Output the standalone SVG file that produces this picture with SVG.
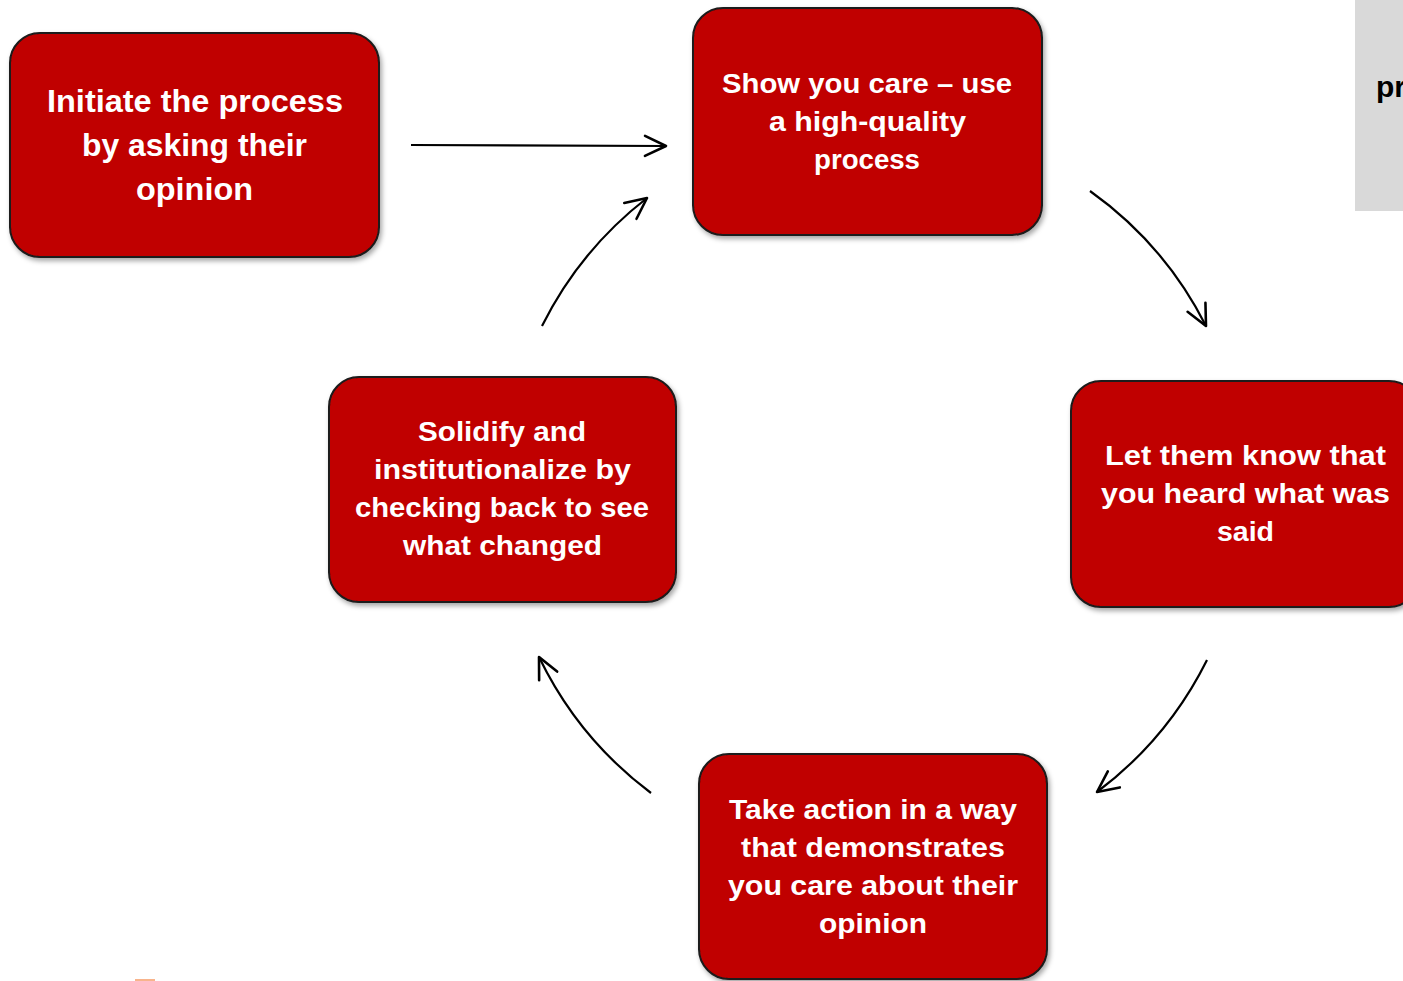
<svg xmlns="http://www.w3.org/2000/svg" width="1403" height="981" viewBox="0 0 1403 981">
<defs>
<filter id="sh" x="-10%" y="-10%" width="125%" height="130%">
<feDropShadow dx="2" dy="3" stdDeviation="2.5" flood-color="#000" flood-opacity="0.35"/>
</filter>
<marker id="ah" markerUnits="userSpaceOnUse" markerWidth="26" markerHeight="24" viewBox="0 0 26 24" refX="23" refY="12" orient="auto">
<path d="M2,2 L23,12 L2,22" fill="none" stroke="#000" stroke-width="2.6" stroke-linecap="round" stroke-linejoin="round"/>
</marker>
</defs>
<style>
.box{fill:#C00000;stroke:#1a1a1a;stroke-width:2;filter:url(#sh)}
.t{font-family:"Liberation Sans",Arial,sans-serif;font-weight:bold;fill:#fff;text-anchor:middle}
.c{fill:none;stroke:#000;stroke-width:2.2;marker-end:url(#ah)}
</style>
<rect x="0" y="0" width="1403" height="981" fill="#fff"/>
<g id="sidepanel">
<rect x="1355" y="0" width="48" height="211" fill="#D9D9D9"/>
<text x="1376" y="97" font-family="Liberation Sans, Arial, sans-serif" font-weight="bold" font-size="30" fill="#000">pr</text>
</g>
<rect x="135" y="979" width="20" height="2" fill="#F8B48C"/>
<g id="connectors">
<path class="c" d="M411,145 L666,146"/>
<path class="c" d="M1090,191 A372,372 0 0 1 1206,326"/>
<path class="c" d="M1207,660 A372,372 0 0 1 1097,792"/>
<path class="c" d="M651,793 A372,372 0 0 1 539,657"/>
<path class="c" d="M542,326 A372,372 0 0 1 647,198"/>
</g>
<g id="node-initiate">
<rect class="box" x="10" y="33" width="369" height="224" rx="30"/>
<text class="t" font-size="31" x="195" y="112" textLength="296" lengthAdjust="spacingAndGlyphs">Initiate the process</text>
<text class="t" font-size="31" x="194.5" y="156" textLength="225" lengthAdjust="spacingAndGlyphs">by asking their</text>
<text class="t" font-size="31" x="194.5" y="200" textLength="117" lengthAdjust="spacingAndGlyphs">opinion</text>
</g>
<g id="node-show">
<rect class="box" x="693" y="8" width="349" height="227" rx="30"/>
<text class="t" font-size="28" x="867" y="93" textLength="290" lengthAdjust="spacingAndGlyphs">Show you care – use</text>
<text class="t" font-size="28" x="867.5" y="131" textLength="197" lengthAdjust="spacingAndGlyphs">a high-quality</text>
<text class="t" font-size="28" x="867" y="169" textLength="106" lengthAdjust="spacingAndGlyphs">process</text>
</g>
<g id="node-letthemknow">
<rect class="box" x="1071" y="381" width="348" height="226" rx="30"/>
<text class="t" font-size="28" x="1245.5" y="465" textLength="281" lengthAdjust="spacingAndGlyphs">Let them know that</text>
<text class="t" font-size="28" x="1245.5" y="503" textLength="289" lengthAdjust="spacingAndGlyphs">you heard what was</text>
<text class="t" font-size="28" x="1245.5" y="541" textLength="57" lengthAdjust="spacingAndGlyphs">said</text>
</g>
<g id="node-takeaction">
<rect class="box" x="699" y="754" width="348" height="225" rx="30"/>
<text class="t" font-size="28" x="873" y="819" textLength="288" lengthAdjust="spacingAndGlyphs">Take action in a way</text>
<text class="t" font-size="28" x="873" y="857" textLength="264" lengthAdjust="spacingAndGlyphs">that demonstrates</text>
<text class="t" font-size="28" x="873" y="895" textLength="290" lengthAdjust="spacingAndGlyphs">you care about their</text>
<text class="t" font-size="28" x="873" y="933" textLength="108" lengthAdjust="spacingAndGlyphs">opinion</text>
</g>
<g id="node-solidify">
<rect class="box" x="329" y="377" width="347" height="225" rx="30"/>
<text class="t" font-size="28" x="502" y="441" textLength="168" lengthAdjust="spacingAndGlyphs">Solidify and</text>
<text class="t" font-size="28" x="502.5" y="479" textLength="257" lengthAdjust="spacingAndGlyphs">institutionalize by</text>
<text class="t" font-size="28" x="502" y="517" textLength="294" lengthAdjust="spacingAndGlyphs">checking back to see</text>
<text class="t" font-size="28" x="502.5" y="555" textLength="199" lengthAdjust="spacingAndGlyphs">what changed</text>
</g>
</svg>
